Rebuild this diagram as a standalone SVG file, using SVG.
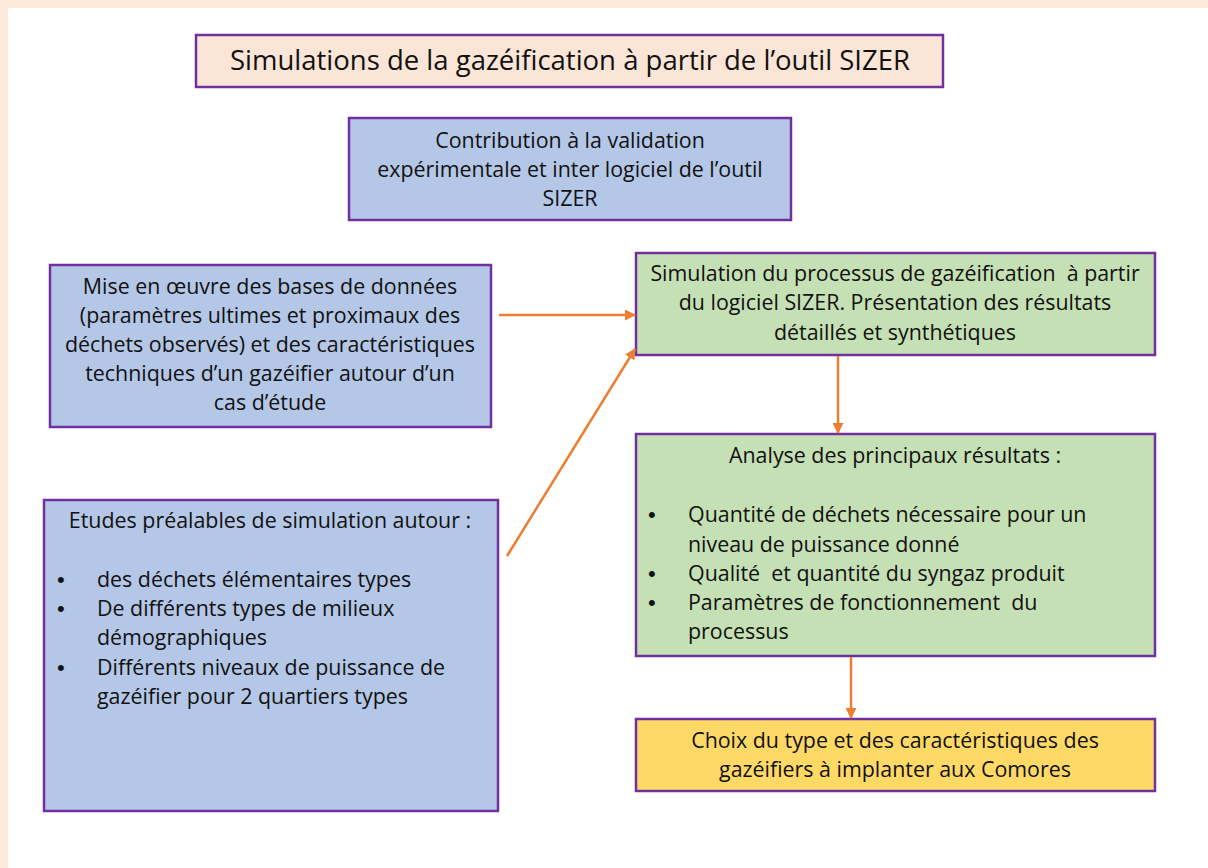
<svg xmlns="http://www.w3.org/2000/svg" width="1208" height="868" viewBox="0 0 1208 868">
<style>
.box{stroke:#7030A0;stroke-width:2.5}
.t{font-family:"Open Sans","Liberation Sans",Arial,sans-serif;font-size:21.4px;fill:#111}
.c{text-anchor:middle}
.b{font-family:"Liberation Sans",Arial,sans-serif;font-size:22px;fill:#111}
.conn{stroke:#ED7D31;stroke-width:2.5;fill:none;marker-end:url(#ah)}
</style>
<defs>
<marker id="ah" markerWidth="11" markerHeight="11" refX="10" refY="5.5" orient="auto" markerUnits="userSpaceOnUse"><path d="M0,0 L11,5.5 L0,11 Z" fill="#ED7D31"/></marker>
</defs>
<rect x="0" y="0" width="1208" height="868" fill="#FDEADA"/>
<rect x="8" y="8" width="1200" height="860" fill="#FFFFFF"/>
<g id="title">
<rect class="box" x="196" y="35" width="747" height="52" fill="#FBE5D6"/>
<text class="t c" x="570" y="70" style="font-size:27.5px">Simulations de la gazéification à partir de l’outil SIZER</text>
</g>
<g id="validation">
<rect class="box" x="349" y="118" width="442" height="102" fill="#B4C7E7"/>
<text class="t c" x="570" y="148">Contribution à la validation</text>
<text class="t c" x="570" y="177">expérimentale et inter logiciel de l’outil</text>
<text class="t c" x="570" y="206">SIZER</text>
</g>
<g id="bases">
<rect class="box" x="50" y="265" width="441" height="162" fill="#B4C7E7"/>
<text class="t c" x="270" y="294">Mise en œuvre des bases de données</text>
<text class="t c" x="270" y="323">(paramètres ultimes et proximaux des</text>
<text class="t c" x="270" y="352">déchets observés) et des caractéristiques</text>
<text class="t c" x="270" y="381">techniques d’un gazéifier autour d’un</text>
<text class="t c" x="270" y="410">cas d’étude</text>
</g>
<g id="etudes">
<rect class="box" x="44" y="500" width="454" height="311" fill="#B4C7E7"/>
<text class="t c" x="270" y="528">Etudes préalables de simulation autour :</text>
<text class="b" x="57" y="587">•</text><text class="t" x="97" y="587">des déchets élémentaires types</text>
<text class="b" x="57" y="616">•</text><text class="t" x="97" y="616">De différents types de milieux</text>
<text class="t" x="97" y="645">démographiques</text>
<text class="b" x="57" y="675">•</text><text class="t" x="97" y="675">Différents niveaux de puissance de</text>
<text class="t" x="97" y="704">gazéifier pour 2 quartiers types</text>
</g>
<g id="simulation">
<rect class="box" x="636" y="253" width="519" height="102" fill="#C5E0B4"/>
<text class="t c" x="895" y="281">Simulation du processus de gazéification&#160; à partir</text>
<text class="t c" x="895" y="310">du logiciel SIZER. Présentation des résultats</text>
<text class="t c" x="895" y="340">détaillés et synthétiques</text>
</g>
<g id="analyse">
<rect class="box" x="636" y="434" width="519" height="222" fill="#C5E0B4"/>
<text class="t c" x="895" y="463">Analyse des principaux résultats :</text>
<text class="b" x="648" y="522">•</text><text class="t" x="688" y="522">Quantité de déchets nécessaire pour un</text>
<text class="t" x="688" y="552">niveau de puissance donné</text>
<text class="b" x="648" y="581">•</text><text class="t" x="688" y="581">Qualité&#160; et quantité du syngaz produit</text>
<text class="b" x="648" y="610">•</text><text class="t" x="688" y="610">Paramètres de fonctionnement&#160; du</text>
<text class="t" x="688" y="639">processus</text>
</g>
<g id="choix">
<rect class="box" x="636" y="719" width="519" height="72" fill="#FFD966"/>
<text class="t c" x="895" y="748">Choix du type et des caractéristiques des</text>
<text class="t c" x="895" y="777">gazéifiers à implanter aux Comores</text>
</g>
<g id="connectors">
<line class="conn" x1="499" y1="315" x2="635" y2="315"/>
<line class="conn" x1="507" y1="556" x2="635" y2="349"/>
<line class="conn" x1="838" y1="356" x2="838" y2="433"/>
<line class="conn" x1="851" y1="657" x2="851" y2="718"/>
</g>
</svg>
